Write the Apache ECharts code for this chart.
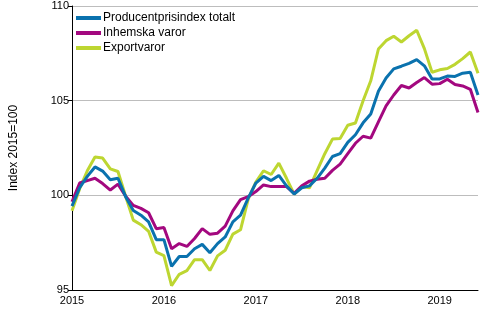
<!DOCTYPE html>
<html>
<head>
<meta charset="utf-8">
<script src="https://cdn.jsdelivr.net/npm/echarts@6/dist/echarts.min.js"></script>
<style>html,body{margin:0;padding:0;background:#fff;}#c{width:500px;height:330px;}</style>
</head>
<body>
<div id="c"></div>
<script>
var years = [2015, 2016, 2017, 2018, 2019];
var lastYearMonths = 6;
var seriesNames = ['Producentprisindex totalt', 'Inhemska varor', 'Exportvaror'];
var yTicks = [95, 100, 105, 110];

var totalt = [99.43,100.4,101.0,101.5,101.28,100.82,100.9,99.93,99.2,98.95,98.6,97.66,
  97.66,96.25,96.77,96.77,97.18,97.41,96.97,97.45,97.8,98.6,98.95,99.85,
  100.65,101.0,100.78,101.05,100.5,100.07,100.4,100.5,100.9,101.44,102.05,102.2,
  102.8,103.2,103.83,104.3,105.5,106.2,106.68,106.82,106.97,107.17,106.84,106.15,
  106.15,106.3,106.28,106.45,106.5,105.3];
var inhemska = [99.66,100.65,100.78,100.9,100.62,100.28,100.59,99.96,99.47,99.31,99.08,98.24,
  98.3,97.18,97.45,97.3,97.72,98.24,97.94,98.0,98.37,99.18,99.77,99.93,
  100.2,100.55,100.46,100.46,100.46,100.1,100.5,100.75,100.85,100.9,101.32,101.65,
  102.2,102.75,103.12,103.02,103.88,104.72,105.3,105.8,105.67,105.96,106.22,105.87,
  105.9,106.13,105.85,105.78,105.6,104.38];
var export_ = [99.18,100.35,101.3,102.02,101.97,101.4,101.26,99.95,98.69,98.45,98.1,97.0,
  96.82,95.23,95.83,96.02,96.6,96.6,96.03,96.8,97.1,97.95,98.18,99.8,
  100.7,101.3,101.1,101.7,100.9,100.06,100.46,100.4,101.3,102.2,102.97,103.0,
  103.7,103.82,105.0,106.05,107.73,108.17,108.4,108.1,108.43,108.72,107.75,106.5,
  106.63,106.7,106.92,107.22,107.57,106.45];

var categories = [];
years.forEach(function (y, k) {
  var n = (k === years.length - 1) ? lastYearMonths : 12;
  for (var m = 1; m <= n; m++) categories.push(y + 'M' + (m < 10 ? '0' + m : m));
});

var colors = ['#0a72ae', '#a3087f', '#bdd631'];
var chart = echarts.init(document.getElementById('c'), null, {renderer: 'canvas'});
var font = 'Liberation Sans, Arial, sans-serif';
chart.setOption({
  animation: false,
  color: colors,
  grid: {left: 68, right: 22, top: 6, bottom: 40, containLabel: false},
  legend: {
    show: true, orient: 'vertical', left: 71, top: 7,
    itemWidth: 25, itemHeight: 4, itemGap: 3,
    icon: 'rect',
    textStyle: {fontFamily: font, fontSize: 12, color: '#000', padding: [0,0,0,-3]},
    data: seriesNames
  },
  xAxis: {
    type: 'category', boundaryGap: false, data: categories,
    axisLine: {lineStyle: {color: '#000', width: 1}},
    axisTick: {show: false},
    axisLabel: {
      fontFamily: font, fontSize: 11, color: '#000', margin: 5,
      interval: function (i, v) { return v.slice(4) === 'M01'; },
      formatter: function (v) { return v.slice(0, 4); }
    },
    splitLine: {show: false}
  },
  yAxis: {
    type: 'value', min: 95, max: 110, interval: 5,
    name: 'Index 2015=100', nameLocation: 'middle', nameGap: 52,
    nameTextStyle: {fontFamily: font, fontSize: 12, color: '#000'},
    axisLine: {show: true, lineStyle: {color: '#000', width: 1}},
    axisTick: {show: true, length: 4, lineStyle: {color: '#000'}},
    axisLabel: {fontFamily: font, fontSize: 11, color: '#000', margin: 3,
      formatter: function (v) { return yTicks.indexOf(v) >= 0 ? String(v) : ''; }},
    splitLine: {show: true, lineStyle: {color: '#bdbdbd', width: 1}}
  },
  series: [
    {name: seriesNames[0], type: 'line', data: totalt, showSymbol: false, lineStyle: {width: 3}, z: 3},
    {name: seriesNames[1], type: 'line', data: inhemska, showSymbol: false, lineStyle: {width: 3}, z: 2},
    {name: seriesNames[2], type: 'line', data: export_, showSymbol: false, lineStyle: {width: 3}, z: 1}
  ]
});
</script>
</body>
</html>
